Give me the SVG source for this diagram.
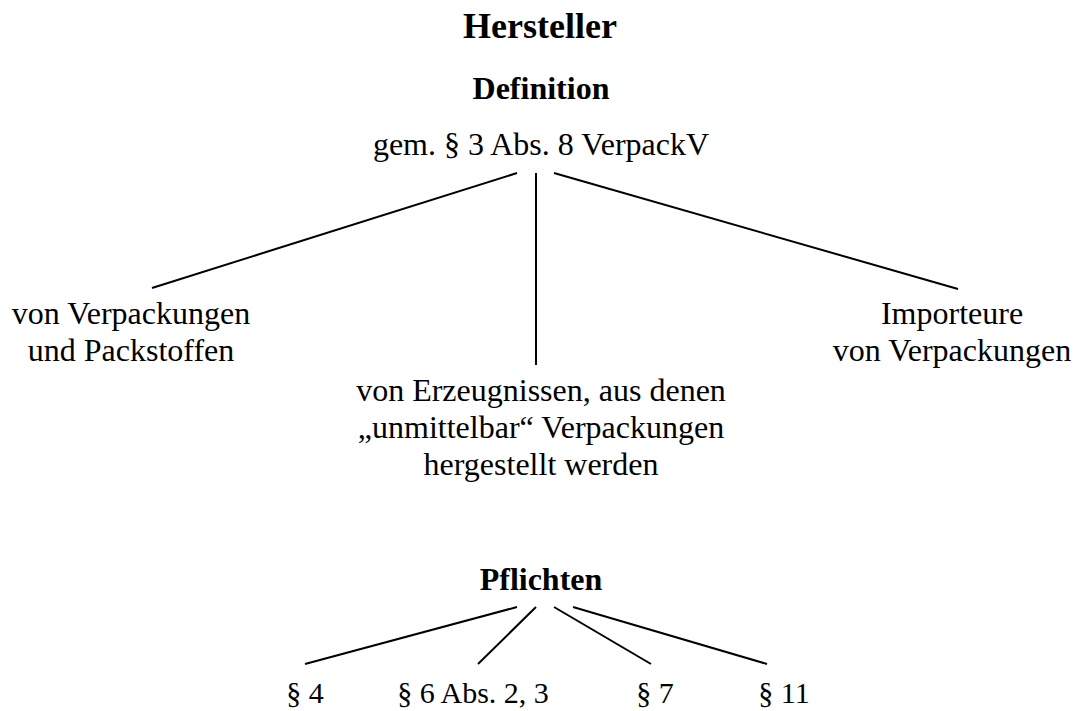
<svg xmlns="http://www.w3.org/2000/svg" width="1081" height="711" viewBox="0 0 1081 711">
<style>
text{font-family:"Liberation Serif","Times New Roman",serif;fill:#000;text-anchor:middle}
.t{font-size:36px;font-weight:bold}
.h{font-size:32px;font-weight:bold}
.n{font-size:32px}
.s{font-size:30px}
.c line{stroke:#000;stroke-width:2}
</style>
<rect width="1081" height="711" fill="#fff"/>
<g id="title"><text class="t" x="540" y="38">Hersteller</text></g>
<g id="definition"><text class="h" x="541" y="99">Definition</text></g>
<g id="gem"><text class="n" x="541" y="155">gem. § 3 Abs. 8 VerpackV</text></g>
<g id="verpackungen"><text class="n" x="131" y="324">von Verpackungen</text><text class="n" x="131" y="361">und Packstoffen</text></g>
<g id="erzeugnisse"><text class="n" x="541" y="401">von Erzeugnissen, aus denen</text><text class="n" x="541" y="438">„unmittelbar“ Verpackungen</text><text class="n" x="541" y="475">hergestellt werden</text></g>
<g id="importeure"><text class="n" x="952" y="324">Importeure</text><text class="n" x="952" y="361">von Verpackungen</text></g>
<g id="pflichten"><text class="h" x="541" y="590">Pflichten</text></g>
<g id="p4"><text class="s" x="305" y="703">§ 4</text></g>
<g id="p6"><text class="s" x="473" y="703">§ 6 Abs. 2, 3</text></g>
<g id="p7"><text class="s" x="655" y="703">§ 7</text></g>
<g id="p11"><text class="s" x="784" y="703">§ 11</text></g>
<g class="c" id="connectors">
<line x1="517" y1="173" x2="152" y2="288"/>
<line x1="536" y1="173" x2="536" y2="365"/>
<line x1="554" y1="173" x2="958" y2="289"/>
<line x1="517" y1="607" x2="305" y2="664"/>
<line x1="536" y1="607" x2="478" y2="664"/>
<line x1="554" y1="607" x2="651" y2="664"/>
<line x1="573" y1="607" x2="767" y2="664"/>
</g>
</svg>
